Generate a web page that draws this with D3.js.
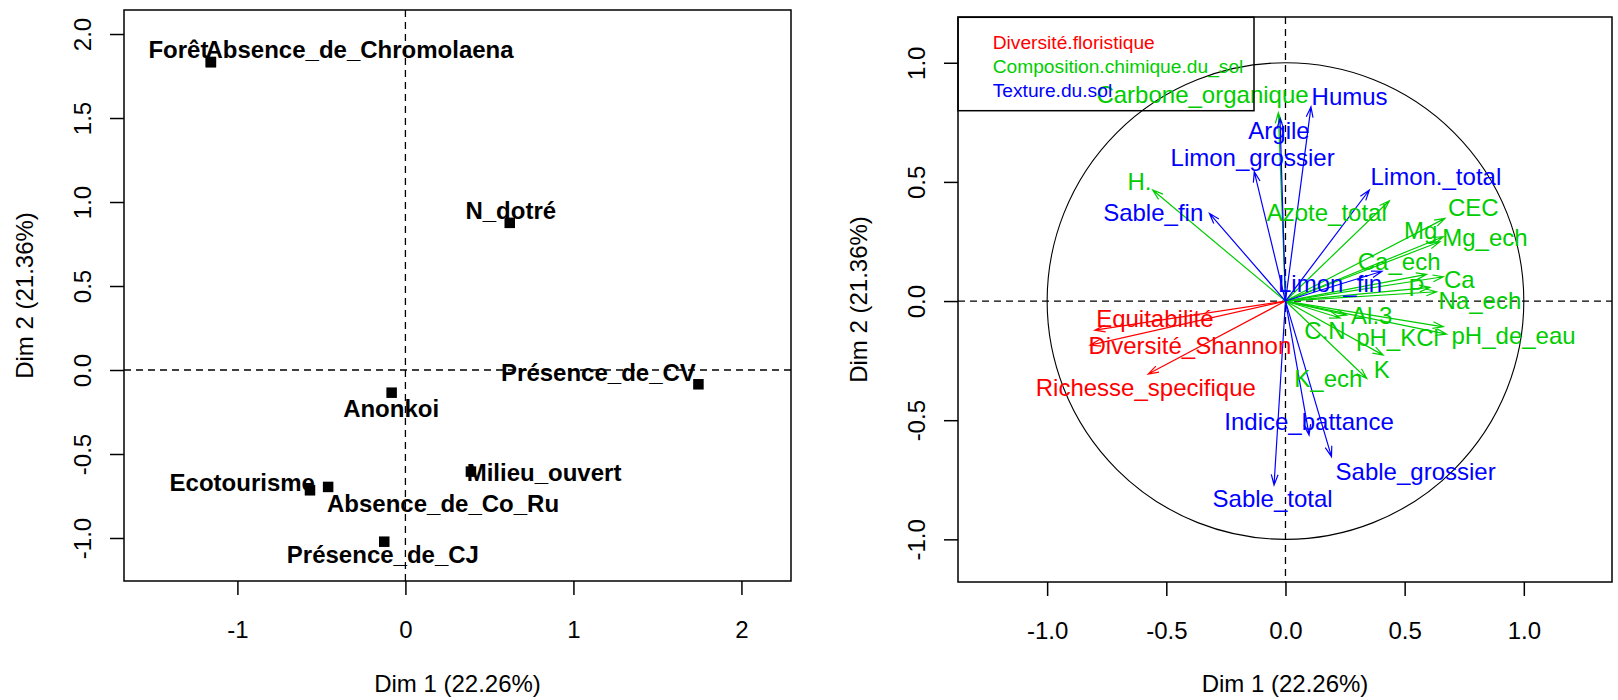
<!DOCTYPE html>
<html>
<head>
<meta charset="utf-8">
<script src="https://cdn.jsdelivr.net/npm/d3@7"></script>
<style>
  body { margin: 0; background: #fff; }
  svg { display: block; font-family: "Liberation Sans", Arial, Helvetica, sans-serif; }
</style>
</head>
<body>
<svg id="chart" width="1618" height="700"></svg>
<script>
// ---------- Individuals factor map (Dim 1 / Dim 2) ----------
const indNames = ["Forêt", "Absence_de_Chromolaena", "N_dotré", "Présence_de_CV", "Anonkoi",
                  "Milieu_ouvert", "Ecotourisme", "Absence_de_Co_Ru", "Présence_de_CJ"];
const indDim1 = [-1.158, -1.158, 0.621, 1.744, -0.082, 0.390, -0.568, -0.460, -0.126];
const indDim2 = [1.833, 1.833, 0.876, -0.085, -0.135, -0.605, -0.716, -0.696, -1.022];
// label anchors (data units) as placed by the label-repel step
const indLabelDim1 = [-1.351, -0.273, 0.627, 1.149, -0.085, 0.825, -0.971, 0.224, -0.134];
const indLabelDim2 = [1.908, 1.908, 0.952, -0.017, -0.228, -0.612, -0.667, -0.797, -1.098];

// ---------- Variables correlation circle ----------
const groupNames = ["Diversité.floristique", "Composition.chimique.du_sol", "Texture.du.sol"];
const groupColors = ["#ff0000", "#00cd00", "#0000ff"];

const varNames = ["Equitabilité", "Diversité_Shannon", "Richesse_specifique",
  "Carbone_organique", "H.", "Azote_total", "CEC", "Mg", "Mg_ech", "Ca_ech", "Ca", "P", "Na_ech",
  "Al.3", "C.N", "pH_KCl", "pH_de_eau", "K", "K_ech",
  "Humus", "Argile", "Limon_grossier", "Limon._total", "Sable_fin", "Limon_fin",
  "Indice_battance", "Sable_grossier", "Sable_total"];
const varGroup = [0, 0, 0,
  1, 1, 1, 1, 1, 1, 1, 1, 1, 1, 1, 1, 1, 1, 1, 1,
  2, 2, 2, 2, 2, 2, 2, 2, 2];
const varDim1 = [-0.800, -0.820, -0.576,
  -0.030, -0.557, 0.436, 0.669, 0.662, 0.648, 0.592, 0.662, 0.606, 0.634,
  0.257, 0.229, 0.676, 0.662, 0.410, 0.341,
  0.107, -0.023, -0.131, 0.352, -0.319, 0.405, 0.099, 0.193, -0.048];
const varDim2 = [-0.122, -0.185, -0.306,
  0.790, 0.466, 0.421, 0.347, 0.270, 0.249, 0.112, 0.102, 0.057, 0.039,
  -0.059, -0.071, -0.139, -0.108, -0.227, -0.325,
  0.815, 0.767, 0.543, 0.466, 0.368, 0.125, -0.562, -0.653, -0.772];
const varLabelDim1 = [-0.548, -0.401, -0.586,
  -0.348, -0.613, 0.173, 0.788, 0.567, 0.837, 0.477, 0.729, 0.550, 0.816,
  0.362, 0.166, 0.470, 0.957, 0.404, 0.180,
  0.269, -0.027, -0.138, 0.631, -0.555, 0.187, 0.099, 0.546, -0.054];
const varLabelDim2 = [-0.074, -0.185, -0.364,
  0.866, 0.504, 0.371, 0.392, 0.295, 0.266, 0.167, 0.092, 0.057, 0.001,
  -0.062, -0.122, -0.153, -0.146, -0.286, -0.325,
  0.860, 0.714, 0.601, 0.524, 0.373, 0.076, -0.506, -0.715, -0.828];

// ---------- Axis ticks and titles ----------
const leftXTicks = [-1, 0, 1, 2];
const leftXTickLabels = ["-1", "0", "1", "2"];
const leftYTicks = [-1, -0.5, 0, 0.5, 1, 1.5, 2];
const leftYTickLabels = ["-1.0", "-0.5", "0.0", "0.5", "1.0", "1.5", "2.0"];
const rightTicks = [-1, -0.5, 0, 0.5, 1];
const rightTickLabels = ["-1.0", "-0.5", "0.0", "0.5", "1.0"];
const xTitle = "Dim 1 (22.26%)";
const yTitle = "Dim 2 (21.36%)";

const svg = d3.select("#chart");
const FS = 24;             // base font size
const CAP = 0.358 * FS;    // half cap height: centre-of-caps to baseline

function panel(opts) {
  const g = svg.append("g");
  const x = d3.scaleLinear().domain(opts.xDomain).range([opts.left, opts.right]);
  const y = d3.scaleLinear().domain(opts.yDomain).range([opts.bottom, opts.top]);

  // bottom axis
  const ax = g.append("g")
    .attr("transform", `translate(0,${opts.bottom})`)
    .call(d3.axisBottom(x).tickValues(opts.xTicks)
      .tickFormat((d, i) => opts.xTickLabels[i]).tickSize(14).tickSizeOuter(0));
  ax.select(".domain").remove();
  ax.selectAll(".tick line").attr("stroke", "#000").attr("stroke-width", 1.5);
  ax.selectAll(".tick text").attr("y", 57).attr("dy", 0)
    .attr("font-size", FS).attr("font-family", null).attr("fill", "#000");

  // left axis, labels parallel to the axis
  const ay = g.append("g")
    .attr("transform", `translate(${opts.left},0)`)
    .call(d3.axisLeft(y).tickValues(opts.yTicks)
      .tickFormat((d, i) => opts.yTickLabels[i]).tickSize(14).tickSizeOuter(0));
  ay.select(".domain").remove();
  ay.selectAll(".tick line").attr("stroke", "#000").attr("stroke-width", 1.5);
  ay.selectAll(".tick text")
    .attr("x", 0).attr("dy", 0)
    .attr("transform", "translate(-33.3,0) rotate(-90)")
    .attr("text-anchor", "middle")
    .attr("font-size", FS).attr("font-family", null).attr("fill", "#000");

  // titles
  g.append("text")
    .attr("x", (opts.left + opts.right) / 2).attr("y", 691.7)
    .attr("text-anchor", "middle").attr("font-size", FS).text(xTitle);
  g.append("text")
    .attr("transform", `translate(${opts.left - 90.7},${(opts.top + opts.bottom) / 2}) rotate(-90)`)
    .attr("text-anchor", "middle").attr("font-size", FS).text(yTitle);

  // dashed reference lines through the origin
  g.append("line")
    .attr("x1", opts.left).attr("x2", opts.right).attr("y1", y(0)).attr("y2", y(0))
    .attr("stroke", "#000").attr("stroke-width", 1.3).attr("stroke-dasharray", "7,5");
  g.append("line")
    .attr("x1", x(0)).attr("x2", x(0)).attr("y1", opts.top).attr("y2", opts.bottom)
    .attr("stroke", "#000").attr("stroke-width", 1.3).attr("stroke-dasharray", "7,5");

  // frame
  g.append("rect")
    .attr("x", opts.left).attr("y", opts.top)
    .attr("width", opts.right - opts.left).attr("height", opts.bottom - opts.top)
    .attr("fill", "none").attr("stroke", "#000").attr("stroke-width", 1.5);

  return { g, x, y };
}

// ---------- Left: individuals ----------
const L = panel({
  left: 124, right: 791, top: 10, bottom: 581,
  xDomain: [-1.675, 2.295], yDomain: [-1.256, 2.143],
  xTicks: leftXTicks, xTickLabels: leftXTickLabels,
  yTicks: leftYTicks, yTickLabels: leftYTickLabels
});

const SQ = 10.5;
L.g.append("g").selectAll("rect")
  .data(indNames)
  .join("rect")
  .attr("x", (d, i) => L.x(indDim1[i]) - SQ / 2)
  .attr("y", (d, i) => L.y(indDim2[i]) - SQ / 2)
  .attr("width", SQ).attr("height", SQ)
  .attr("fill", "#000");

L.g.append("g").selectAll("text")
  .data(indNames)
  .join("text")
  .attr("x", (d, i) => L.x(indLabelDim1[i]))
  .attr("y", (d, i) => L.y(indLabelDim2[i]) + CAP)
  .attr("text-anchor", "middle")
  .attr("font-size", FS).attr("font-weight", "bold").attr("fill", "#000")
  .text(d => d);

// ---------- Right: variables ----------
const R = panel({
  left: 958, right: 1612, top: 17, bottom: 582,
  xDomain: [-1.374, 1.370], yDomain: [-1.179, 1.192],
  xTicks: rightTicks, xTickLabels: rightTickLabels,
  yTicks: rightTicks, yTickLabels: rightTickLabels
});

// unit circle
R.g.append("ellipse")
  .attr("cx", R.x(0)).attr("cy", R.y(0))
  .attr("rx", R.x(1) - R.x(0)).attr("ry", R.y(0) - R.y(1))
  .attr("fill", "none").attr("stroke", "#000").attr("stroke-width", 1.1);

// arrows from the origin, open arrowheads
const HEAD = 11, ANG = 18 * Math.PI / 180;
const arrows = R.g.append("g").attr("fill", "none").attr("stroke-width", 1.2);
varNames.forEach((name, i) => {
  const x0 = R.x(0), y0 = R.y(0);
  const x1 = R.x(varDim1[i]), y1 = R.y(varDim2[i]);
  const a = Math.atan2(y1 - y0, x1 - x0);
  const p = d3.path();
  p.moveTo(x0, y0); p.lineTo(x1, y1);
  p.moveTo(x1 - HEAD * Math.cos(a - ANG), y1 - HEAD * Math.sin(a - ANG));
  p.lineTo(x1, y1);
  p.lineTo(x1 - HEAD * Math.cos(a + ANG), y1 - HEAD * Math.sin(a + ANG));
  arrows.append("path").attr("d", p.toString()).attr("stroke", groupColors[varGroup[i]]);
});

R.g.append("g").selectAll("text")
  .data(varNames)
  .join("text")
  .attr("x", (d, i) => R.x(varLabelDim1[i]))
  .attr("y", (d, i) => R.y(varLabelDim2[i]) + CAP)
  .attr("text-anchor", "middle")
  .attr("font-size", FS)
  .attr("fill", (d, i) => groupColors[varGroup[i]])
  .text(d => d);

// legend
const legend = R.g.append("g");
legend.append("rect")
  .attr("x", 958).attr("y", 17.3).attr("width", 1254 - 958).attr("height", 110.7 - 17.3)
  .attr("fill", "none").attr("stroke", "#000").attr("stroke-width", 1.5);
legend.selectAll("text")
  .data(groupNames)
  .join("text")
  .attr("x", 992.7)
  .attr("y", (d, i) => 49.3 + i * 23.7)
  .attr("font-size", 19.2)
  .attr("fill", (d, i) => groupColors[i])
  .text(d => d);
</script>
</body>
</html>
